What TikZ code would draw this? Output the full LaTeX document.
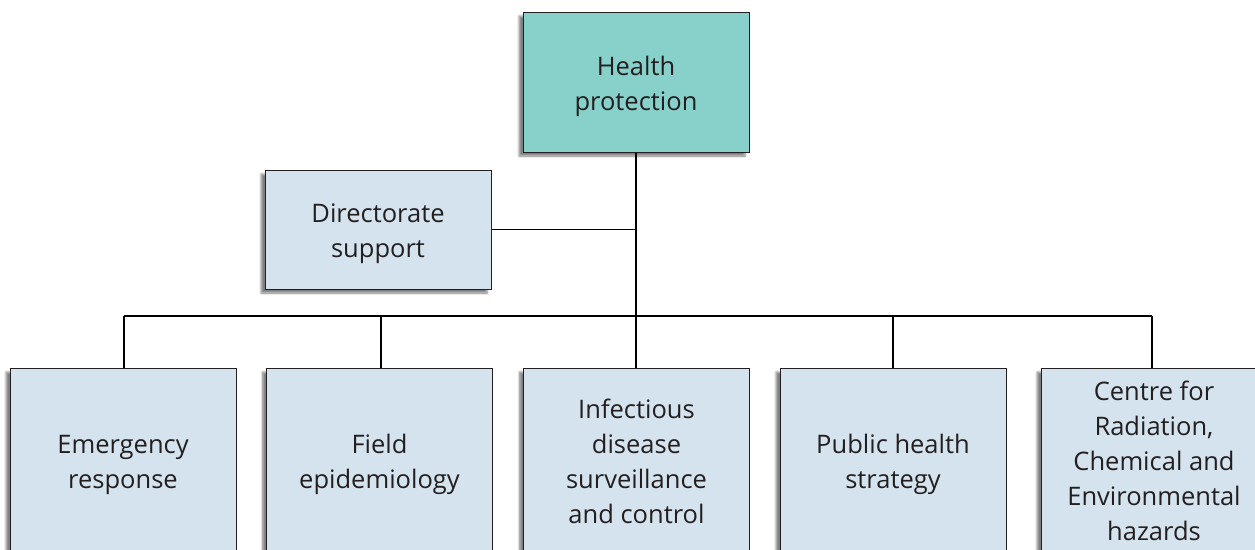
\documentclass[tikz,border=0pt]{standalone}
\usepackage{fontspec}
\setmainfont{Open Sans}
\usetikzlibrary{shadows.blur}
\definecolor{topfill}{HTML}{88D1CA}
\definecolor{boxfill}{HTML}{D4E3ED}
\definecolor{txt}{HTML}{231F20}
\newcommand\boxlines[1]{\raisebox{-3.5pt}[\height][\depth]{\begin{tabular}{@{}c@{}}#1\end{tabular}}}
\tikzset{
  unit/.style={draw=txt, line width=1pt, fill=boxfill, minimum width=226pt,
    text=txt, font=\fontsize{25.5}{35}\selectfont, inner sep=0pt,
    blur shadow={shadow xshift=-4pt, shadow yshift=-4pt, shadow blur steps=6, shadow opacity=50}},
  link/.style={draw=black, line width=1.6pt}
}
\begin{document}
\begin{tikzpicture}[x=1pt,y=-1pt]
\useasboundingbox (0,0) rectangle (1255,549);
\node[unit, fill=topfill, minimum height=140pt] (hp) at (636,82) {\boxlines{Health\\protection}};
\node[unit, minimum height=119pt] (ds) at (378,229.5) {\boxlines{Directorate\\support}};
\node[unit, minimum height=184pt] (er) at (123,460) {\boxlines{Emergency\\response}};
\node[unit, minimum height=184pt] (fe) at (379.5,460) {\boxlines{Field\\epidemiology}};
\node[unit, minimum height=184pt] (id) at (636.5,460) {\boxlines{Infectious\\disease\\surveillance\\and control}};
\node[unit, minimum height=184pt] (ph) at (893,460) {\boxlines{Public health\\strategy}};
\node[unit, minimum height=184pt] (cr) at (1154,460) {\boxlines{Centre for\\Radiation,\\Chemical and\\Environmental\\hazards}};
\coordinate (hub) at (636,316);
\coordinate (lft) at (124,316);
\coordinate (rgt) at (1152,316);
\draw[link] (hp.south) -- (hub);
\draw[link] (ds.east) -- (ds.east -| hp.south);
\draw[link] (lft) -- (rgt);
\draw[link] (lft) -- (lft |- er.north);
\draw[link] (381,316) -- (381,0 |- fe.north);
\draw[link] (hub) -- (id.north -| hub);
\draw[link] (893,316) -- (ph.north);
\draw[link] (rgt) -- (rgt |- cr.north);
\end{tikzpicture}
\end{document}
